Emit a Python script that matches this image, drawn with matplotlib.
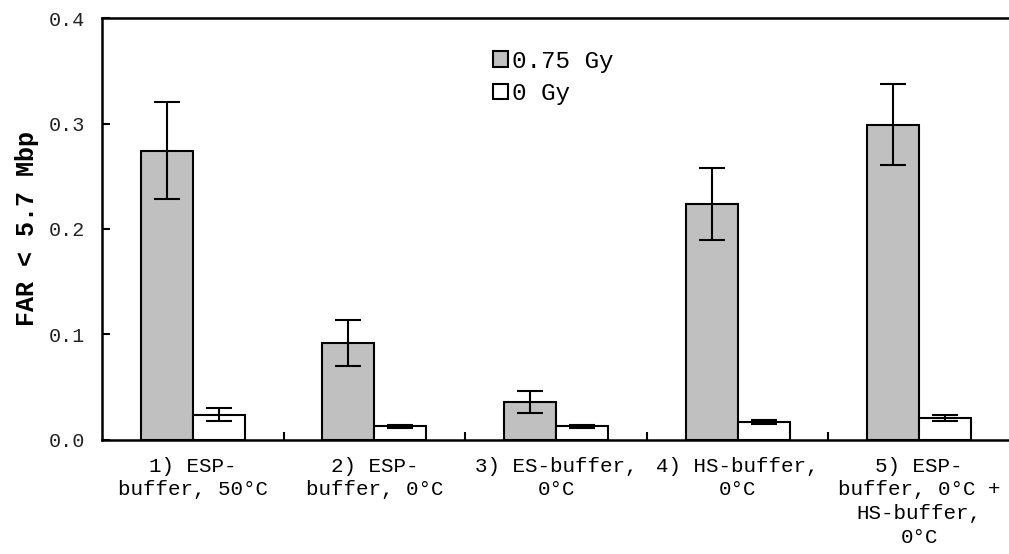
import numpy as np
from matplotlib import pyplot as plt
from matplotlib.ticker import MultipleLocator, FixedLocator

plt.rcParams['font.family'] = ['Liberation Mono', 'DejaVu Sans Mono']

categories = ["1) ESP-\nbuffer, 50°C", "2) ESP-\nbuffer, 0°C", "3) ES-buffer,\n0°C",
              "4) HS-buffer,\n0°C", "5) ESP-\nbuffer, 0°C +\nHS-buffer,\n0°C"]
dose_075 = [0.274, 0.092, 0.036, 0.224, 0.299]
err_075 = [0.046, 0.022, 0.010, 0.034, 0.038]
dose_0 = [0.024, 0.013, 0.013, 0.017, 0.021]
err_0 = [0.006, 0.0015, 0.0015, 0.0015, 0.003]
series_labels = ["0.75 Gy", "0 Gy"]

fig = plt.figure(figsize=(10.09, 5.54), dpi=100)
ax = fig.add_axes([0.1011, 0.2058, 0.8999, 0.7617])

x = np.arange(len(categories))
w = 0.286
ek = dict(elinewidth=1.5, capthick=1.5, capsize=9.5, ecolor='black')
ax.bar(x - w / 2, dose_075, w, yerr=err_075, color='#c0c0c0', edgecolor='black',
       linewidth=1.5, label=series_labels[0], error_kw=ek)
ax.bar(x + w / 2, dose_0, w, yerr=err_0, color='white', edgecolor='black',
       linewidth=1.5, label=series_labels[1], error_kw=ek)

ax.set_xlim(-0.5, len(categories) - 0.5)
ax.set_ylim(0, 0.4)
ax.yaxis.set_major_locator(MultipleLocator(0.1))
ax.yaxis.set_major_formatter(lambda v, p: "{0:.1f}".format(v))
ax.tick_params(axis='y', direction='in', length=6, width=1.5, pad=12,
               labelsize=14.5, labelcolor='#222222')
ax.set_xticks(x)
ax.set_xticklabels(categories, fontsize=15, linespacing=1.32)
ax.xaxis.set_minor_locator(FixedLocator(x[:-1] + 0.5))
ax.tick_params(axis='x', which='major', length=0, pad=12)
ax.tick_params(axis='x', which='minor', direction='in', length=6, width=1.5)

for s in ['top', 'bottom', 'left']:
    ax.spines[s].set_linewidth(1.8)
ax.spines['right'].set_visible(False)

ax.set_ylabel("FAR < 5.7 Mbp", fontsize=18, fontweight='bold', labelpad=7)

ax.legend(loc='upper left', bbox_to_anchor=(0.479, 0.928), bbox_transform=fig.transFigure,
          frameon=False, fontsize=17.5, handlelength=0.6, handleheight=0.6,
          handletextpad=0.2, labelspacing=0.38, borderaxespad=0)

fig.savefig("out.png", dpi=100)
